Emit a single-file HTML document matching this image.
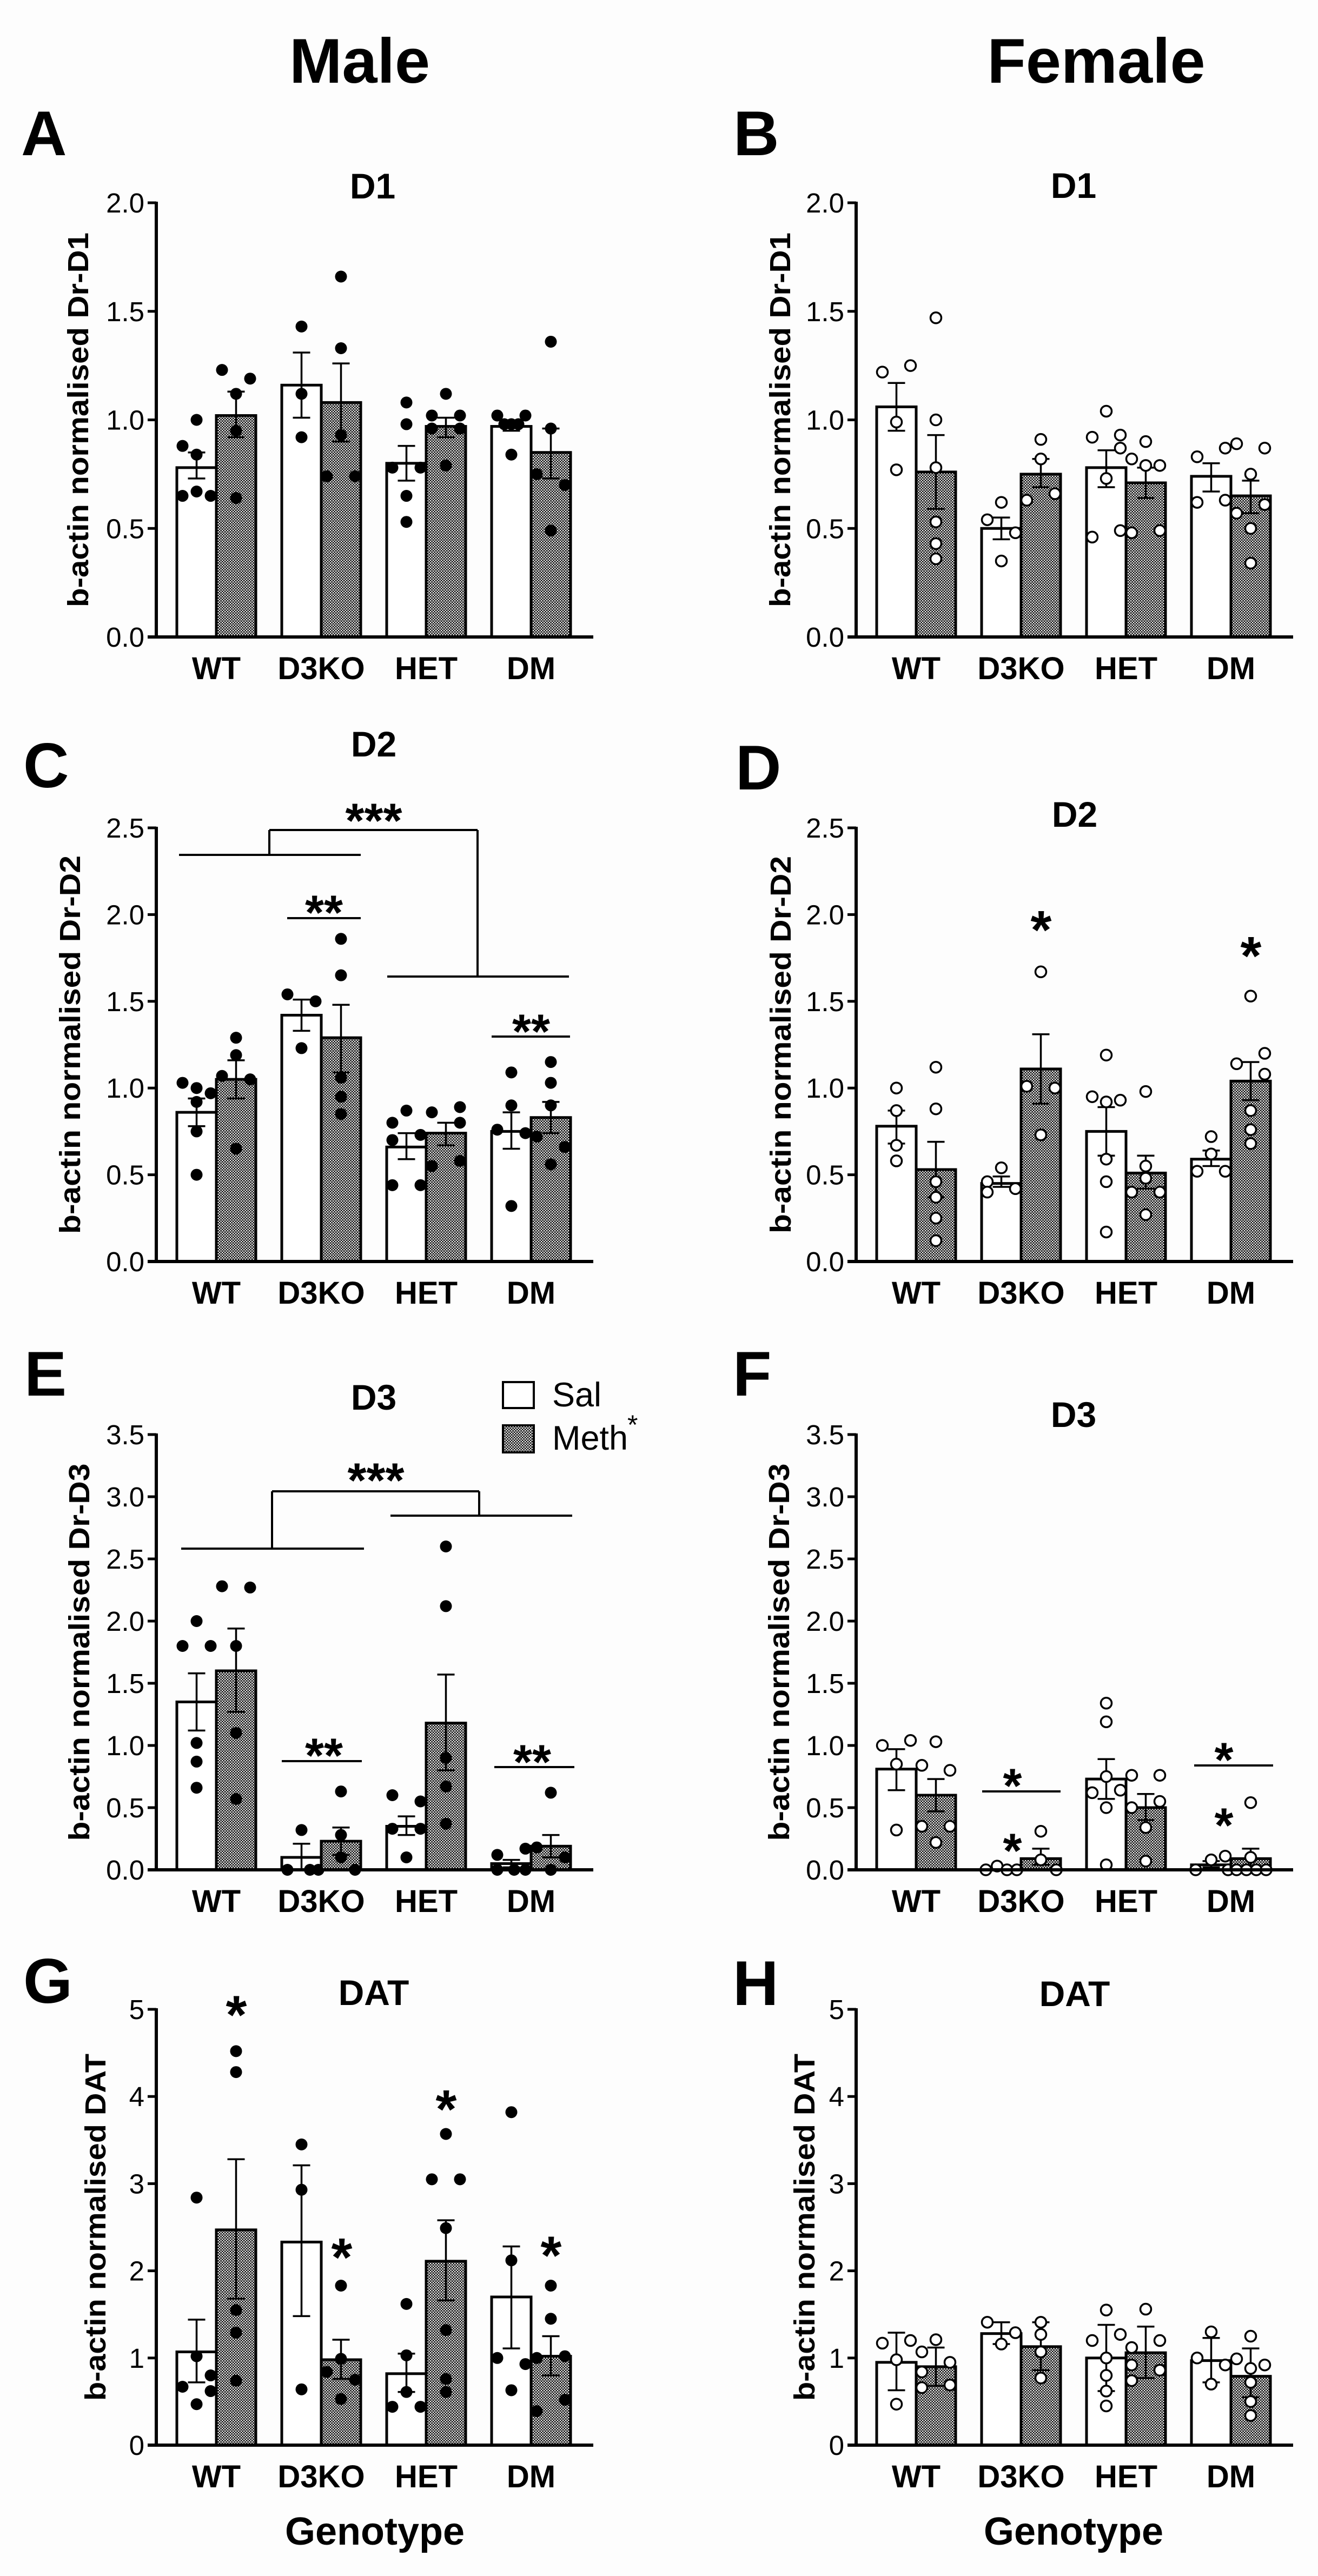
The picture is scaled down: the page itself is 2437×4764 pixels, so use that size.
<!DOCTYPE html>
<html><head><meta charset="utf-8">
<style>
html,body{margin:0;padding:0;background:#fdfdfd;}
svg{display:block;}
text{font-family:"Liberation Sans",Arial,sans-serif;fill:#000;}
</style></head>
<body>
<svg id="s" xmlns="http://www.w3.org/2000/svg" width="2437" height="4764" viewBox="0 0 2437 4764">
<defs>
<pattern id="chk" width="5" height="5" patternUnits="userSpaceOnUse">
<rect width="5" height="5" fill="#111"/>
<rect x="0" y="0" width="2.3" height="2.3" fill="#fff"/>
<rect x="2.5" y="2.5" width="2.3" height="2.3" fill="#fff"/>
</pattern>
</defs>
<text x="665" y="153" font-size="117" font-weight="bold" text-anchor="middle">Male</text>
<text x="2027" y="153" font-size="117" font-weight="bold" text-anchor="middle">Female</text>
<text x="693" y="4706" font-size="72" font-weight="bold" text-anchor="middle">Genotype</text>
<text x="1985" y="4706" font-size="72" font-weight="bold" text-anchor="middle">Genotype</text>
<rect x="930" y="2556" width="57" height="48" fill="#fff" stroke="#000" stroke-width="4"/>
<rect x="930" y="2636" width="57" height="50" fill="url(#chk)" stroke="#000" stroke-width="4"/>
<text x="1021" y="2601" font-size="63">Sal</text>
<text x="1021" y="2681" font-size="63">Meth</text>
<text x="1160" y="2652" font-size="50">*</text>
</svg>
<script>
(function(){
var S=document.getElementById('s');var NS='http://www.w3.org/2000/svg';
function el(t,a,txt){var e=document.createElementNS(NS,t);for(var k in a)e.setAttribute(k,a[k]);if(txt!==undefined)e.textContent=txt;S.appendChild(e);return e;}
function line(x1,y1,x2,y2,w){el('line',{x1:x1,y1:y1,x2:x2,y2:y2,stroke:'#000','stroke-width':w||4});}
function star(x,cy,s,fs){fs=fs||90;el('text',{x:x,y:cy+fs*0.56,'font-size':fs,'font-weight':'bold','text-anchor':'middle'},s);}
var P=[
{ox:289,base:1178,top:375,max:2,step:0.5,dec:1,fem:0,title:'D1',tx:689,ty:367,L:'A',lx:39,ly:287,yl:'b-actin normalised Dr-D1',ylx:163,yll:693,
data:[[0.78,0.73,0.85,[[1.0,0],[0.88,-1],[0.84,0],[0.67,0],[0.65,-1],[0.65,1]]],
[1.02,0.92,1.13,[[1.23,-1],[1.19,1],[1.12,0],[0.95,0],[0.64,0]]],
[1.16,1.01,1.31,[[1.43,0],[1.12,0],[0.92,0]]],
[1.08,0.9,1.26,[[1.66,0],[1.33,0],[0.93,0],[0.74,-1],[0.74,1]]],
[0.8,0.72,0.88,[[1.08,0],[0.98,0],[0.78,-1],[0.78,1],[0.65,0],[0.53,0]]],
[0.97,0.92,1.01,[[1.12,0],[1.02,-1],[1.02,1],[0.96,-1],[0.96,1],[0.79,0]]],
[0.97,0.95,0.98,[[1.02,-1],[1.02,1],[0.98,-0.5],[0.98,0],[0.98,0.5],[0.84,0]]],
[0.85,0.73,0.96,[[1.36,0],[0.96,0],[0.75,-1],[0.7,1],[0.49,0]]]]},
{ox:1583,base:1178,top:375,max:2,step:0.5,dec:1,fem:1,title:'D1',tx:1985,ty:366,L:'B',lx:1356,ly:287,yl:'b-actin normalised Dr-D1',ylx:1461,yll:693,
data:[[1.06,0.95,1.17,[[1.22,-1],[1.25,1],[0.99,0],[0.77,0]]],
[0.76,0.59,0.93,[[1.47,0],[1.0,0],[0.78,0],[0.53,0],[0.43,0],[0.36,0]]],
[0.5,0.45,0.55,[[0.62,0],[0.54,-1],[0.48,1],[0.35,0]]],
[0.75,0.69,0.82,[[0.91,0],[0.82,0],[0.63,-1],[0.66,1]]],
[0.78,0.69,0.86,[[1.04,0],[0.92,-1],[0.93,1],[0.87,1],[0.73,0],[0.49,1],[0.46,-1]]],
[0.71,0.64,0.78,[[0.9,0],[0.82,-1],[0.79,0],[0.79,1],[0.48,-1],[0.49,1]]],
[0.74,0.67,0.8,[[0.83,-1],[0.87,1],[0.62,-1],[0.63,1]]],
[0.65,0.57,0.72,[[0.89,-1],[0.87,1],[0.75,0],[0.61,1],[0.57,-1],[0.5,0],[0.34,0]]]]},
{ox:289,base:2333,top:1531,max:2.5,step:0.5,dec:1,fem:0,title:'D2',tx:691,ty:1399,L:'C',lx:43,ly:1456,yl:'b-actin normalised Dr-D2',ylx:148,yll:700,
data:[[0.86,0.78,0.94,[[1.03,-1],[1.0,0],[0.97,1],[0.92,0],[0.75,0],[0.5,0]]],
[1.05,0.94,1.16,[[1.29,0],[1.19,0],[1.07,-1],[1.05,1],[0.65,0]]],
[1.42,1.33,1.51,[[1.54,-1],[1.5,1],[1.23,0]]],
[1.29,1.09,1.48,[[1.86,0],[1.65,0],[1.06,0],[0.95,0],[0.85,0]]],
[0.66,0.59,0.74,[[0.8,-1],[0.87,0],[0.73,1],[0.7,-1],[0.44,-1],[0.44,1]]],
[0.74,0.67,0.8,[[0.86,-1],[0.89,1],[0.8,1],[0.55,-1],[0.58,1]]],
[0.75,0.65,0.86,[[1.09,0],[0.9,0],[0.76,-1],[0.74,1],[0.32,0]]],
[0.83,0.74,0.92,[[1.15,0],[1.03,0],[0.9,0],[0.72,-1],[0.66,1],[0.56,0]]]]},
{ox:1583,base:2333,top:1531,max:2.5,step:0.5,dec:1,fem:1,title:'D2',tx:1987,ty:1529,L:'D',lx:1360,ly:1460,yl:'b-actin normalised Dr-D2',ylx:1462,yll:698,
data:[[0.78,0.68,0.87,[[1.0,0],[0.87,0],[0.67,0],[0.58,0]]],
[0.53,0.37,0.69,[[1.12,0],[0.88,0],[0.46,0],[0.37,0],[0.25,0],[0.12,0]]],
[0.45,0.43,0.49,[[0.54,0],[0.46,-1],[0.4,-1],[0.42,1]]],
[1.11,0.91,1.31,[[1.67,0],[1.01,-1],[1.0,1],[0.73,0]]],
[0.75,0.61,0.89,[[1.19,0],[0.95,-1],[0.92,0],[0.93,1],[0.59,0],[0.46,0],[0.17,0]]],
[0.51,0.42,0.61,[[0.98,0],[0.55,0],[0.48,0],[0.4,-1],[0.4,1],[0.27,0]]],
[0.59,0.55,0.64,[[0.72,0],[0.62,0],[0.52,-1],[0.52,1]]],
[1.04,0.93,1.15,[[1.53,0],[1.2,1],[1.14,-1],[1.08,1],[0.87,0],[0.76,0],[0.68,0]]]]},
{ox:289,base:3458,top:2653,max:3.5,step:0.5,dec:1,fem:0,title:'D3',tx:691,ty:2607,L:'E',lx:45,ly:2581,yl:'b-actin normalised Dr-D3',ylx:165,yll:698,
data:[[1.35,1.12,1.58,[[1.8,-1],[2.0,0],[1.8,1],[1.02,0],[0.87,0],[0.66,0]]],
[1.6,1.27,1.94,[[2.28,-1],[2.27,1],[1.8,0],[1.1,0],[0.57,0]]],
[0.1,0,0.21,[[0.32,0],[0,-1],[0,0.6],[0,1.2]]],
[0.23,0.12,0.34,[[0.63,0],[0.28,0],[0.1,0],[0,1]]],
[0.35,0.28,0.43,[[0.6,-1],[0.55,1],[0.33,-1],[0.33,1],[0.1,0]]],
[1.18,0.8,1.57,[[2.6,0],[2.12,0],[0.9,0],[0.67,0],[0.37,0]]],
[0.05,0.02,0.08,[[0.12,-1],[0.17,1],[0,-1],[0,0.2],[0,1]]],
[0.19,0.1,0.28,[[0.62,0],[0.18,-1],[0.1,1],[0,0]]]]},
{ox:1583,base:3458,top:2653,max:3.5,step:0.5,dec:1,fem:1,title:'D3',tx:1985,ty:2639,L:'F',lx:1355,ly:2581,yl:'b-actin normalised Dr-D3',ylx:1459,yll:698,
data:[[0.81,0.64,0.97,[[1.0,-1],[1.04,1],[0.85,0],[0.32,0]]],
[0.6,0.47,0.73,[[1.03,0],[0.8,1],[0.84,-1],[0.35,-1],[0.35,1],[0.22,0]]],
[0.0,0,0,[[0,-1.1],[0.03,-0.3],[0,0.4],[0,1.1]]],
[0.09,0.04,0.17,[[0.31,0],[0.08,0],[0,1.1]]],
[0.73,0.57,0.89,[[1.34,0],[1.19,0],[0.75,0],[0.62,-1],[0.64,1],[0.5,0],[0.04,0]]],
[0.5,0.4,0.61,[[0.76,-1],[0.76,1],[0.55,1],[0.5,-1],[0.34,0],[0.07,0]]],
[0.04,0.02,0.07,[[0,-1.1],[0.08,0],[0.11,1],[0,1.2]]],
[0.09,0.03,0.17,[[0.54,0],[0.1,0],[0,-1],[0,-0.3],[0,0.4],[0,1.1]]]]},
{ox:289,base:4522,top:3716,max:5,step:1,dec:0,fem:0,title:'DAT',tx:691,ty:3708,L:'G',lx:43,ly:3704,yl:'b-actin normalised DAT',ylx:195,yll:642,
data:[[1.07,0.72,1.44,[[2.84,0],[1.02,0],[0.8,1],[0.67,-1],[0.62,1],[0.47,0]]],
[2.47,1.68,3.28,[[4.52,0],[4.28,0],[1.55,0],[1.29,0],[0.74,0]]],
[2.33,1.48,3.21,[[3.45,0],[2.93,0],[0.64,0]]],
[0.98,0.76,1.21,[[1.83,0],[0.99,0],[0.84,-1],[0.75,1],[0.53,0]]],
[0.82,0.61,1.05,[[1.62,0],[1.03,0],[0.61,0],[0.44,-1],[0.44,1]]],
[2.11,1.66,2.58,[[3.57,0],[3.05,-1],[3.05,1],[2.49,0],[1.32,0],[0.76,0],[0.61,0]]],
[1.7,1.11,2.28,[[3.82,0],[2.12,0],[1.0,-1],[0.93,1],[0.63,0]]],
[1.02,0.8,1.25,[[1.83,0],[1.45,0],[1.0,-1],[1.02,1],[0.52,1],[0.39,-1]]]]},
{ox:1583,base:4522,top:3716,max:5,step:1,dec:0,fem:1,title:'DAT',tx:1987,ty:3710,L:'H',lx:1355,ly:3708,yl:'b-actin normalised DAT',ylx:1506,yll:642,
data:[[0.95,0.63,1.29,[[1.17,-1],[1.2,1],[0.98,0],[0.47,0]]],
[0.9,0.68,1.12,[[1.21,0],[1.07,-1],[0.95,1],[0.84,-1],[0.66,-1],[0.69,1]]],
[1.28,1.16,1.41,[[1.41,-1],[1.29,1],[1.16,0]]],
[1.13,0.86,1.41,[[1.41,0],[1.27,0],[1.07,0],[0.77,0]]],
[1.0,0.62,1.38,[[1.55,0],[1.2,-1],[1.27,1],[1.0,0],[0.8,0],[0.62,0],[0.45,0]]],
[1.06,0.77,1.36,[[1.56,0],[1.2,1],[1.12,-1],[0.92,-1],[0.86,1],[0.74,-1]]],
[0.97,0.72,1.23,[[1.3,0],[1.0,-1],[0.92,1],[0.7,0]]],
[0.79,0.55,1.11,[[1.25,0],[0.99,-1],[0.92,1],[0.88,0],[0.72,0],[0.5,0],[0.34,0]]]]}
];
var cats=['WT','D3KO','HET','DM'];
P.forEach(function(p){
 var sc=(p.base-p.top)/p.max;
 function Y(v){return p.base-v*sc;}
 el('text',{x:p.lx,y:p.ly,'font-size':117,'font-weight':'bold'},p.L);
 el('text',{x:p.tx,y:p.ty,'font-size':66,'font-weight':'bold','text-anchor':'middle'},p.title);
 var cy=(p.base+p.top)/2;
 el('text',{x:p.ylx,y:cy,'font-size':54,'font-weight':'bold','text-anchor':'middle',transform:'rotate(-90 '+p.ylx+' '+cy+')',textLength:p.yll,lengthAdjust:'spacingAndGlyphs'},p.yl);
 for(var i=0;i<8;i++){
  var g=Math.floor(i/2),m=i%2;
  var x0=p.ox+38+g*194+m*73,w=73;
  var d=p.data[i];
  var cx=x0+w/2;
  el('rect',{x:x0,y:Y(d[0]),width:w,height:Math.max(0,p.base-Y(d[0])),fill:m?'url(#chk)':'#fff',stroke:'#000','stroke-width':5});
  if(d[2]>d[1]){
   line(cx,Y(d[1]),cx,Y(d[2]),3.5);
   line(cx-16,Y(d[1]),cx+16,Y(d[1]),3.5);
   line(cx-16,Y(d[2]),cx+16,Y(d[2]),3.5);
  }
  d[3].forEach(function(pt){
   el('circle',{cx:cx+pt[1]*26,cy:Y(pt[0]),r:p.fem?10:11,fill:p.fem?'#fff':'#000',stroke:'#000','stroke-width':p.fem?3.5:0});
  });
 }
 line(p.ox,p.top-2,p.ox,p.base+3,6);
 line(p.ox-16,p.base,p.ox+808,p.base,6);
 for(var v=0;v<=p.max+1e-9;v+=p.step){
  var y=Y(v);
  line(p.ox-16,y,p.ox,y,5);
  el('text',{x:p.ox-22,y:y+18,'font-size':51,'text-anchor':'end'},v.toFixed(p.dec));
 }
 for(var c=0;c<4;c++){
  el('text',{x:p.ox+38+c*194+73,y:p.base+78,'font-size':58,'font-weight':'bold','text-anchor':'middle'},cats[c]);
 }
});
line(331,1581,667,1581);line(498,1535,883,1535);line(498,1535,498,1581);line(883,1535,883,1806);line(716,1806,1052,1806);
star(691,1498,'***');
line(531,1698,667,1698);star(599,1668,'**');
line(909,1917,1054,1917);star(982,1888,'**');
line(335,2864,673,2864);line(503,2758,886,2758);line(503,2758,503,2864);line(886,2758,886,2803);line(722,2803,1058,2803);
star(695,2718,'***');
line(521,3257,669,3257);star(599,3227,'**');
line(914,3268,1062,3268);star(984,3239,'**');
line(1816,3313,1961,3313);star(1872,3283,'*');star(1872,3403,'*');
line(2208,3265,2354,3265);star(2263,3235,'*');star(2263,3356,'*');
star(1925,2333-1.98*320.8,'*',100);
star(2313,2333-1.83*320.8,'*',100);
var gs=161.2;
star(437,4522-5.07*gs,'*',100);star(632,4522-2.29*gs,'*',100);star(825,4522-3.99*gs,'*',100);star(1019,4522-2.31*gs,'*',100);
})();
</script>
</body></html>
